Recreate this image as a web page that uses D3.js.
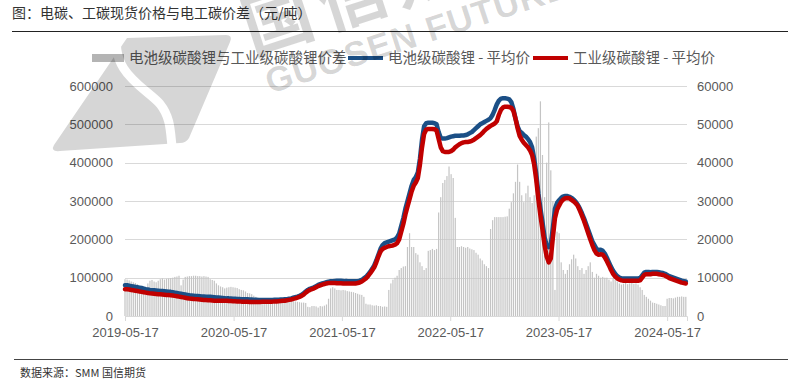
<!DOCTYPE html>
<html>
<head>
<meta charset="utf-8">
<script src="https://cdn.jsdelivr.net/npm/d3@7"></script>
<style>
  body { margin: 0; background: #fff; }
  .axis text { font-family: "Liberation Sans", Arial, sans-serif; font-size: 13px; fill: #595959; }
  .cjk { font-family: "Noto Sans CJK SC", sans-serif; }
</style>
</head>
<body>
<div id="chart"></div>
<script>

//Weekly data, first point 2019-05-17
var startDate = "2019-05-17";

//电池级碳酸锂与工业级碳酸锂价差 (right axis)
var spread = [
  9600, 9500, 9300, 9000, 8800, 8600, 8300, 7500, 7000, 6800,
  7200, 8500, 9200, 9400, 9000, 8800, 9200, 9600, 9800, 9500,
  9700, 9800, 9900, 10000, 10200, 10300, 10500, 8000, 9500, 10200,
  10300, 10400, 10400, 10500, 10500, 10400, 10400, 10300, 10400, 10300,
  10200, 9600, 9400, 9200, 8500, 8000, 7700, 7500, 7200, 7400,
  7500, 7600, 7500, 7400, 7300, 7000, 6800, 6700, 6400, 6000,
  5900, 5700, 5300, 5000, 4800, 4600, 4600, 4700, 4600, 4500,
  4600, 4500, 4500, 4400, 4400, 4300, 4200, 4300, 4200, 4000,
  4000, 3900, 3800, 3700, 3600, 3500, 3500, 3400, 2400, 2300,
  2600, 2600, 2500, 2200, 2600, 2500, 2700, 3000, 4500, 7200,
  7500, 7200, 6800, 6800, 6700, 6800, 6700, 6500, 6400, 6300,
  6200, 6000, 5800, 5600, 5500, 5000, 3200, 3000, 3000, 2800,
  2700, 2800, 2600, 2600, 2400, 2500, 2400, 6800, 8500, 9500,
  10000, 10500, 12000, 12500, 12900, 13000, 18000, 21600, 18000, 18000,
  16400, 16000, 14000, 13000, 12000, 12500, 17000, 17200, 17500, 17200,
  17500, 27000, 31000, 34700, 35500, 36500, 39000, 37000, 36000, 25600,
  18000, 18000, 18200, 18000, 17800, 18000, 17600, 17400, 17200, 16500,
  16000, 15000, 14500, 13500, 13000, 12500, 22700, 25000, 25800, 25800,
  25800, 25800, 25800, 25900, 26000, 28000, 29700, 32000, 35000, 39500,
  35000, 31500, 29700, 32000, 34000, 31000, 29500, 31500, 46800, 49000,
  56000, 42000, 31000, 40000, 50500, 38000, 30000, 6800, 22000, 21600,
  14000, 12000, 11000, 12000, 13500, 14800, 16000, 15000, 13000, 12000,
  12500, 11000, 12000, 13000, 14000, 11500, 10000, 11000, 10500, 10000,
  10200, 10000, 10000, 9500, 9000, 9800, 9500, 9000, 8500, 8200,
  8400, 8600, 8300, 8500, 8600, 8400, 8500, 8200, 7500, 6800,
  5500, 5000, 4500, 4000, 3500, 3400, 3200, 3000, 2800, 2600,
  2600, 4500, 4700, 4700, 4600, 4800, 5000, 5000, 5100, 5000, 5000
];

//电池级碳酸锂 - 平均价 (left axis)
var batteryPrice = [
  80500, 80000, 79000, 78000, 77000, 76000, 75000, 74000, 73000, 71500,
  70000, 69000, 68000, 67500, 67000, 66500, 66000, 65500, 65000, 64500,
  64000, 63500, 63000, 62000, 61000, 60000, 59000, 58000, 57000, 56000,
  55000, 54000, 53500, 53000, 52500, 52000, 51500, 51000, 51000, 50500,
  50000, 50000, 49500, 49000, 48500, 48000, 47500, 47000, 46500, 46000,
  46000, 45500, 45000, 45000, 44500, 44500, 44000, 44000, 43500, 43500,
  43000, 43000, 42500, 42500, 42000, 42000, 42000, 42000, 42000, 42000,
  42000, 42000, 42500, 42500, 42500, 43000, 43000, 43500, 44000, 45000,
  46000, 47500, 49000, 50500, 52500, 55000, 59000, 64000, 68000, 71000,
  73000, 75000, 78000, 81000, 83000, 85000, 86500, 88000, 89500, 90500,
  91000, 91500, 92000, 92000, 92000, 91500, 91000, 91000, 90500, 90500,
  90500, 90500, 91000, 92000, 94000, 98000, 102000, 108000, 115000, 123000,
  132000, 145000, 160000, 175000, 185000, 190000, 192000, 194000, 196000, 198000,
  200000, 205000, 215000, 235000, 255000, 280000, 300000, 320000, 340000, 355000,
  362000, 375000, 410000, 460000, 495000, 503000, 504000, 504000, 504000, 503000,
  500000, 480000, 465000, 463000, 463000, 464000, 466000, 468000, 469000, 470000,
  470000, 470000, 471000, 471000, 472000, 474000, 477000, 480000, 485000, 490000,
  495000, 500000, 503000, 506000, 509000, 512000, 516000, 525000, 538000, 552000,
  562000, 567000, 568000, 568000, 567000, 565000, 558000, 540000, 515000, 495000,
  482000, 478000, 472000, 468000, 462000, 454000, 440000, 410000, 370000, 320000,
  280000, 245000, 205000, 185000, 180000, 188000, 230000, 280000, 295000, 302000,
  308000, 312000, 313000, 313000, 311000, 308000, 304000, 298000, 290000, 280000,
  268000, 255000, 240000, 225000, 210000, 195000, 185000, 175000, 172000, 173000,
  170000, 163000, 152000, 140000, 128000, 118000, 110000, 104000, 100000, 98000,
  98000, 98000, 98000, 98000, 98000, 98000, 98000, 98000, 99000, 106000,
  113000, 115000, 115000, 114000, 115000, 115000, 115000, 114000, 113000, 112000,
  110000, 107000, 104000, 102000, 100000, 98000, 96000, 94000, 92000, 91000, 90000
];

//工业级碳酸锂 - 平均价 (left axis)
var industrialPrice = [
  70000, 69500, 69000, 68000, 67000, 66000, 65000, 64000, 63000, 62000,
  61000, 60000, 59000, 58500, 58000, 57500, 57000, 56500, 56000, 55500,
  55000, 54500, 54000, 53500, 52500, 51500, 50500, 49500, 48500, 47500,
  46500, 45500, 45000, 44500, 44000, 43500, 43000, 42500, 42000, 41500,
  41000, 41000, 40500, 40000, 40000, 40000, 40000, 40000, 39500, 39500,
  39000, 39000, 38500, 38500, 38000, 38000, 37500, 37500, 37000, 37000,
  36500, 36500, 36500, 36500, 36500, 36500, 37000, 37000, 37000, 37000,
  37500, 37500, 38000, 38000, 38500, 39000, 39500, 40000, 41000, 42000,
  43000, 44500, 46000, 48000, 50000, 52500, 56000, 61000, 65000, 68000,
  70000, 72000, 75000, 78000, 80000, 82000, 83500, 85000, 86000, 86000,
  86000, 86000, 85500, 85500, 85500, 85000, 85000, 85000, 84500, 84500,
  84500, 85000, 86000, 87500, 90000, 94000, 98000, 104000, 111000, 119000,
  127000, 140000, 155000, 168000, 175000, 178000, 180000, 182000, 183000, 184000,
  186000, 190000, 200000, 220000, 240000, 265000, 285000, 305000, 325000, 340000,
  348000, 360000, 395000, 440000, 475000, 486000, 488000, 488000, 488000, 487000,
  484000, 462000, 440000, 430000, 428000, 428000, 428000, 430000, 434000, 440000,
  444000, 448000, 451000, 453000, 454000, 454000, 455000, 457000, 460000, 464000,
  468000, 472000, 477000, 483000, 488000, 492000, 496000, 499000, 502000, 508000,
  525000, 538000, 544000, 546000, 546000, 545000, 543000, 535000, 515000, 490000,
  470000, 460000, 452000, 446000, 440000, 432000, 420000, 395000, 355000, 305000,
  262000, 225000, 185000, 155000, 140000, 150000, 205000, 255000, 277000, 288000,
  298000, 304000, 307000, 308000, 307000, 303000, 299000, 294000, 287000, 275000,
  262000, 248000, 232000, 216000, 200000, 185000, 172000, 163000, 160000, 161000,
  160000, 153000, 143000, 132000, 120000, 110000, 103000, 98000, 95000, 93000,
  92000, 92000, 92000, 92000, 92000, 92000, 92000, 92000, 93000, 100000,
  107000, 109000, 109000, 109000, 110000, 110000, 110000, 109000, 108000, 107000,
  105000, 102000, 99000, 97000, 95000, 93000, 91000, 89000, 87000, 86000, 85000
];

//Axis ticks
var leftTicks = [0, 100000, 200000, 300000, 400000, 500000, 600000];
var rightTicks = [0, 10000, 20000, 30000, 40000, 50000, 60000];
var xTickLabels = ["2019-05-17", "2020-05-17", "2021-05-17", "2022-05-17", "2023-05-17", "2024-05-17"];

var titleText = "图：电碳、工碳现货价格与电工碳价差（元/吨）";
var sourceText = "数据来源：SMM 国信期货";
var seriesNames = ["电池级碳酸锂与工业级碳酸锂价差", "电池级碳酸锂 - 平均价", "工业级碳酸锂 - 平均价"];

//Width and height
var w = 799;
var h = 388;
var plot = {left: 125, right: 687, top: 86, bottom: 316};

var blue = "#1b4f86";
var red = "#c00000";
var barColor = "#c4c4c4";

var parseTime = d3.timeParse("%Y-%m-%d");
var formatTime = d3.timeFormat("%Y-%m-%d");

var start = parseTime(startDate);
var rows = spread.map(function(d, i) {
  return {
    date: d3.timeDay.offset(start, 7 * i),
    spread: d,
    battery: batteryPrice[i],
    industrial: industrialPrice[i]
  };
});
var lastDate = rows[rows.length - 1].date;

//Scales
var xScale = d3.scaleTime()
  .domain([start, d3.timeDay.offset(lastDate, 4)])
  .range([plot.left, plot.right]);

var yLeft = d3.scaleLinear()
  .domain([0, 600000])
  .range([plot.bottom, plot.top]);

var yRight = d3.scaleLinear()
  .domain([0, 60000])
  .range([plot.bottom, plot.top]);

var svg = d3.select("#chart")
  .append("svg")
  .attr("width", w)
  .attr("height", h);

//Title and rules
svg.append("text")
  .attr("class", "cjk")
  .attr("x", 12)
  .attr("y", 18)
  .attr("font-size", 14)
  .attr("fill", "#333")
  .text(titleText);

svg.append("line")
  .attr("x1", 12).attr("x2", 788)
  .attr("y1", 31.5).attr("y2", 31.5)
  .attr("stroke", "#222")
  .attr("stroke-width", 1.2);

svg.append("line")
  .attr("x1", 14).attr("x2", 788)
  .attr("y1", 359.5).attr("y2", 359.5)
  .attr("stroke", "#444")
  .attr("stroke-width", 1.2);

svg.append("text")
  .attr("class", "cjk")
  .attr("x", 20)
  .attr("y", 377)
  .attr("font-size", 11)
  .attr("fill", "#333")
  .text(sourceText);

//Gridlines
svg.append("g")
  .selectAll("line")
  .data(leftTicks)
  .enter()
  .append("line")
  .attr("x1", plot.left)
  .attr("x2", plot.right)
  .attr("y1", function(d) { return Math.round(yLeft(d)) + 0.5; })
  .attr("y2", function(d) { return Math.round(yLeft(d)) + 0.5; })
  .attr("stroke", "#d9d9d9")
  .attr("stroke-width", 1);

//Bars (spread)
var barWidth = 1.2;
svg.append("g")
  .selectAll("rect")
  .data(rows)
  .enter()
  .append("rect")
  .attr("x", function(d) { return xScale(d.date) - barWidth / 2; })
  .attr("y", function(d) { return yRight(d.spread); })
  .attr("width", barWidth)
  .attr("height", function(d) { return yRight(0) - yRight(d.spread); })
  .attr("fill", barColor);

//Axes
var xAxis = d3.axisBottom(xScale)
  .tickValues(xTickLabels.map(parseTime))
  .tickFormat(formatTime)
  .tickSize(5)
  .tickPadding(7);

var gx = svg.append("g")
  .attr("class", "axis x")
  .attr("transform", "translate(0," + plot.bottom + ")")
  .call(xAxis);
gx.select(".domain").attr("stroke", "#d9d9d9");
gx.selectAll(".tick line").attr("stroke", "#d9d9d9");

var gyl = svg.append("g")
  .attr("class", "axis y")
  .attr("transform", "translate(" + plot.left + ",0)")
  .call(d3.axisLeft(yLeft).tickValues(leftTicks).tickSize(0).tickPadding(12).tickFormat(d3.format("d")));
gyl.select(".domain").remove();

var gyr = svg.append("g")
  .attr("class", "axis y2")
  .attr("transform", "translate(" + plot.right + ",0)")
  .call(d3.axisRight(yRight).tickValues(rightTicks).tickSize(0).tickPadding(10).tickFormat(d3.format("d")));
gyr.select(".domain").remove();

//Lines
var batteryLine = d3.line()
  .x(function(d) { return xScale(d.date); })
  .y(function(d) { return yLeft(d.battery); });

var industrialLine = d3.line()
  .x(function(d) { return xScale(d.date); })
  .y(function(d) { return yLeft(d.industrial); });

svg.append("path")
  .datum(rows)
  .attr("d", batteryLine)
  .attr("fill", "none")
  .attr("stroke", blue)
  .attr("stroke-width", 4.5)
  .attr("stroke-linejoin", "round")
  .attr("stroke-linecap", "round");

svg.append("path")
  .datum(rows)
  .attr("d", industrialLine)
  .attr("fill", "none")
  .attr("stroke", red)
  .attr("stroke-width", 4.5)
  .attr("stroke-linejoin", "round")
  .attr("stroke-linecap", "round");

//Legend
var legend = svg.append("g").attr("class", "legend");
var legendY = 58;

legend.append("rect")
  .attr("x", 92).attr("y", legendY - 4)
  .attr("width", 32).attr("height", 8)
  .attr("fill", "#b4b4b4");

legend.append("line")
  .attr("x1", 348).attr("x2", 383)
  .attr("y1", legendY).attr("y2", legendY)
  .attr("stroke", blue).attr("stroke-width", 4);

legend.append("line")
  .attr("x1", 533).attr("x2", 568)
  .attr("y1", legendY).attr("y2", legendY)
  .attr("stroke", red).attr("stroke-width", 4);

legend.selectAll("text")
  .data(seriesNames)
  .enter()
  .append("text")
  .attr("class", "cjk")
  .attr("x", function(d, i) { return [129, 388, 573][i]; })
  .attr("y", legendY + 5)
  .attr("font-size", 14.5)
  .attr("fill", "#595959")
  .text(function(d) { return d; });

//Watermark
var defs = svg.append("defs");
var mask = defs.append("mask").attr("id", "logoMask");
mask.append("path")
  .attr("d", "M127,38 L226,35 Q233,35 230,42 L189,138 Q186,143 180,143 L60,151 Q50,152 54,145 Z")
  .attr("fill", "#fff");
mask.append("path")
  .attr("d", "M118,30 C108,72 146,88 160,104 C172,119 170,134 173,155")
  .attr("fill", "none")
  .attr("stroke", "#000")
  .attr("stroke-width", 9);

var wm = svg.append("g").attr("class", "watermark").attr("pointer-events", "none");
wm.append("rect")
  .attr("x", 0).attr("y", 0)
  .attr("width", 260).attr("height", 170)
  .attr("fill", "#000")
  .attr("fill-opacity", 0.16)
  .attr("mask", "url(#logoMask)");

var wmText = wm.append("g")
  .attr("transform", "translate(270,94) rotate(-18)");
wmText.append("text")
  .attr("x", 0).attr("y", 0)
  .attr("font-family", "Liberation Sans, Arial, sans-serif")
  .attr("font-weight", "bold")
  .attr("font-size", 35)
  .attr("letter-spacing", 1)
  .attr("fill", "#000")
  .attr("fill-opacity", 0.16)
  .text("GUOSEN FUTURES");
wmText.append("text")
  .attr("class", "cjk")
  .attr("x", -5).attr("y", -43)
  .attr("font-weight", "bold")
  .attr("font-size", 70)
  .attr("letter-spacing", 8)
  .attr("fill", "#000")
  .attr("fill-opacity", 0.16)
  .text("国信期货");

</script>
</body>
</html>
